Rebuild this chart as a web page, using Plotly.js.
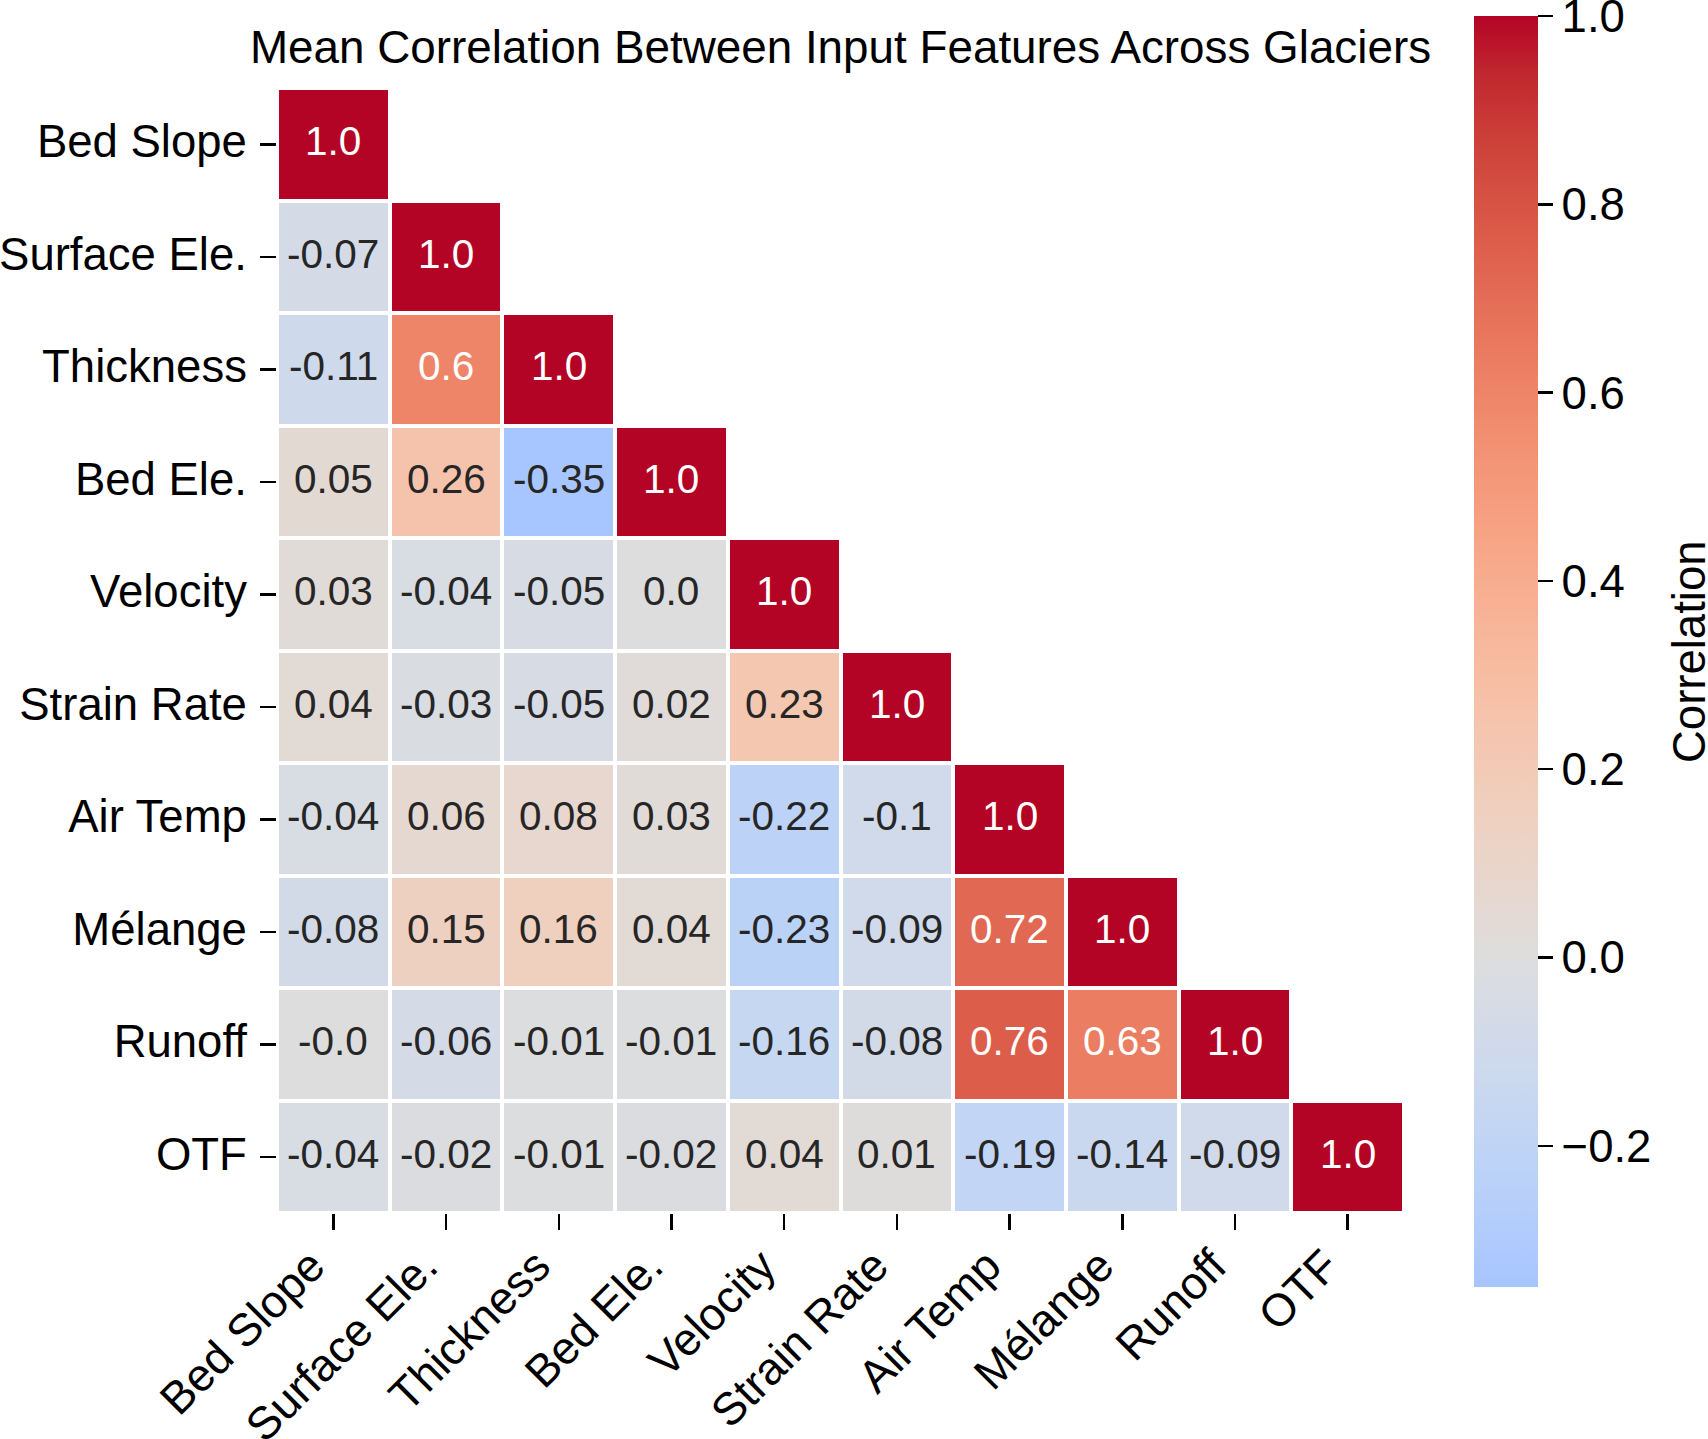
<!DOCTYPE html>
<html>
<head>
<meta charset="utf-8">
<script src="https://cdn.plot.ly/plotly-3.0.1.min.js"></script>
<style>
  html, body { margin: 0; padding: 0; background: #ffffff; }
  #chart { width: 1708px; height: 1439px; }
</style>
</head>
<body>
<div id="chart"></div>
<script>
// ---- data ----
const features = ["Bed Slope", "Surface Ele.", "Thickness", "Bed Ele.", "Velocity",
                  "Strain Rate", "Air Temp", "Mélange", "Runoff", "OTF"];

// lower triangle (including diagonal), row by row
const rowBedSlope   = [1.0];
const rowSurfaceEle = [-0.07, 1.0];
const rowThickness  = [-0.11, 0.6, 1.0];
const rowBedEle     = [0.05, 0.26, -0.35, 1.0];
const rowVelocity   = [0.03, -0.04, -0.05, 0.0, 1.0];
const rowStrainRate = [0.04, -0.03, -0.05, 0.02, 0.23, 1.0];
const rowAirTemp    = [-0.04, 0.06, 0.08, 0.03, -0.22, -0.1, 1.0];
const rowMelange    = [-0.08, 0.15, 0.16, 0.04, -0.23, -0.09, 0.72, 1.0];
const rowRunoff     = [-0.0, -0.06, -0.01, -0.01, -0.16, -0.08, 0.76, 0.63, 1.0];
const rowOTF        = [-0.04, -0.02, -0.01, -0.02, 0.04, 0.01, -0.19, -0.14, -0.09, 1.0];

const rows = [rowBedSlope, rowSurfaceEle, rowThickness, rowBedEle, rowVelocity,
              rowStrainRate, rowAirTemp, rowMelange, rowRunoff, rowOTF];

const zMin = -0.35;
const zMax = 1.0;
const colorbarTicks = [-0.2, 0.0, 0.2, 0.4, 0.6, 0.8, 1.0];

// ---- coolwarm (Moreland) colormap, recentred on 0 over [-1, 1] and cut to [zMin, zMax] ----
const coolwarm = [
  [0.0, 59, 76, 192], [0.03125, 68, 90, 204], [0.0625, 77, 104, 215], [0.09375, 87, 117, 225],
  [0.125, 98, 130, 234], [0.15625, 108, 142, 241], [0.1875, 119, 154, 247], [0.21875, 130, 165, 251],
  [0.25, 141, 176, 254], [0.28125, 152, 185, 255], [0.3125, 163, 194, 255], [0.34375, 174, 201, 253],
  [0.375, 184, 208, 249], [0.40625, 194, 213, 244], [0.4375, 204, 217, 238], [0.46875, 213, 219, 230],
  [0.5, 221, 221, 221], [0.53125, 229, 216, 209], [0.5625, 236, 211, 197], [0.59375, 241, 204, 185],
  [0.625, 245, 196, 173], [0.65625, 247, 187, 160], [0.6875, 247, 177, 148], [0.71875, 247, 166, 135],
  [0.75, 244, 154, 123], [0.78125, 241, 141, 111], [0.8125, 236, 127, 99], [0.84375, 229, 112, 88],
  [0.875, 222, 96, 77], [0.90625, 213, 80, 66], [0.9375, 203, 62, 56], [0.96875, 192, 40, 47],
  [1.0, 180, 4, 38]
];
function cwAt(p) {
  for (let i = 0; i < coolwarm.length - 1; i++) {
    const a = coolwarm[i], b = coolwarm[i + 1];
    if (p >= a[0] && p <= b[0]) {
      const t = (p - a[0]) / (b[0] - a[0]);
      return [1, 2, 3].map(k => Math.round(a[k] + t * (b[k] - a[k])));
    }
  }
  return coolwarm[coolwarm.length - 1].slice(1);
}
const pLo = (zMin + 1) / 2, pHi = (zMax + 1) / 2;
const colorscale = [];
const pts = [pLo].concat(coolwarm.map(c => c[0]).filter(p => p > pLo && p < pHi)).concat([pHi]);
pts.forEach(p => {
  const c = cwAt(p);
  colorscale.push([(p - pLo) / (pHi - pLo), `rgb(${c[0]},${c[1]},${c[2]})`]);
});

// ---- build matrix (upper triangle masked) ----
const n = features.length;
const idx = features.map((_, i) => i);
const z = idx.map(i => idx.map(j => (j <= i ? rows[i][j] : null)));

function fmt(v) {
  if (Number.isInteger(v)) return (Object.is(v, -0) ? "-" : "") + Math.abs(v).toFixed(1);
  return String(v);
}

const FONT = "Liberation Sans, Arial, Helvetica, sans-serif";
const annotations = [];
idx.forEach(i => idx.forEach(j => {
  if (j <= i) {
    const v = rows[i][j];
    annotations.push({
      x: j, y: i, xref: "x", yref: "y",
      text: fmt(v), showarrow: false, yshift: 3,
      font: { family: FONT, size: 40.5, color: v > 0.5 ? "#ffffff" : "#262626" }
    });
  }
}));

// colorbar title
annotations.push({
  xref: "paper", yref: "paper", x: (1717 - 277) / 1127, y: 0.4991,
  text: "Correlation", textangle: -90, showarrow: false,
  xanchor: "right", yanchor: "middle",
  font: { family: FONT, size: 45.5, color: "#000000" }
});

const trace = {
  type: "heatmap",
  x: idx, y: idx, z: z,
  zmin: zMin, zmax: zMax,
  colorscale: colorscale,
  xgap: 4, ygap: 4,
  hoverinfo: "skip",
  colorbar: {
    thickness: 64, thicknessmode: "pixels",
    len: 1.1298, lenmode: "fraction",
    x: 1.0621, xanchor: "left", xpad: 0,
    y: 0.4991, yanchor: "middle", ypad: 0,
    outlinewidth: 0,
    tickmode: "array", tickvals: colorbarTicks,
    tickformat: ".1f",
    ticklabeloverflow: "allow",
    ticklabelstandoff: 7,
    ticks: "outside", ticklen: 15, tickwidth: 2.5, tickcolor: "#000000",
    tickfont: { family: FONT, size: 45.5, color: "#000000" }
  }
};

const axisCommon = {
  tickmode: "array", tickvals: idx, ticktext: features,
  ticks: "outside", ticklen: 16, tickwidth: 2.5, tickcolor: "#000000",
  showgrid: false, zeroline: false, showline: false,
  tickfont: { family: FONT, size: 45.5, color: "#000000" },
  fixedrange: true
};

const layout = {
  width: 1708, height: 1439,
  margin: { l: 277, r: 304, t: 88, b: 226, pad: 0 },
  paper_bgcolor: "#ffffff", plot_bgcolor: "#ffffff",
  title: {
    text: "Mean Correlation Between Input Features Across Glaciers",
    xref: "paper", x: 0.5, xanchor: "center",
    yref: "container", y: 1 - 47 / 1439, yanchor: "middle",
    font: { family: FONT, size: 45.8, color: "#000000" }
  },
  xaxis: Object.assign({}, axisCommon, { range: [-0.5, n - 0.5], tickangle: -45, ticklabelshift: -22, ticklabelstandoff: -9 }),
  yaxis: Object.assign({}, axisCommon, { range: [n - 0.5, -0.5], tickangle: 0, ticklabelstandoff: 4, ticklabelshift: 3 }),
  annotations: annotations,
  showlegend: false
};

Plotly.newPlot("chart", [trace], layout, { staticPlot: true, displayModeBar: false });
</script>
</body>
</html>
